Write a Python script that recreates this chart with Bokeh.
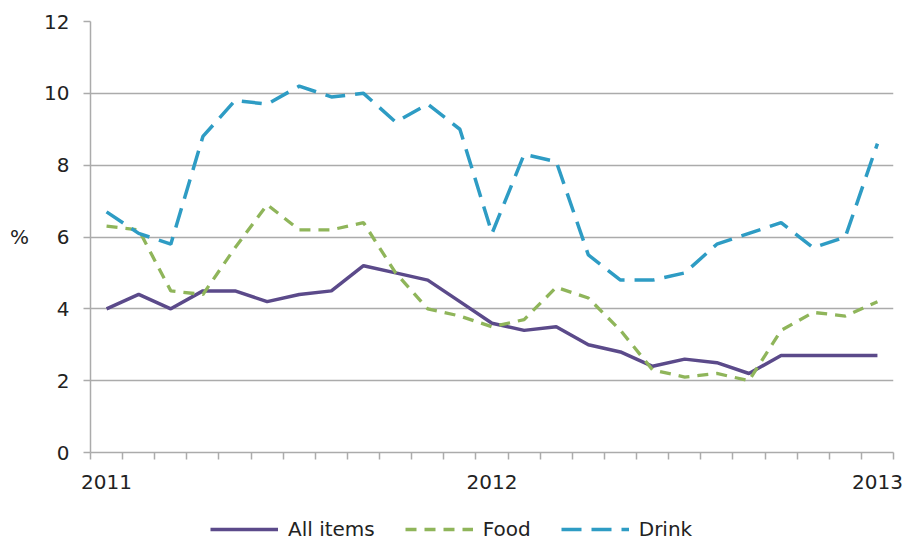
from bokeh.plotting import figure
from bokeh.layouts import column
from bokeh.models import (ColumnDataSource, Range1d, FixedTicker, Legend, LegendItem)
from bokeh.embed import file_html
from bokeh.resources import INLINE

# Monthly annual inflation rates, Jan 2011 - Jan 2013 (%)
months = list(range(25))
year_ticks = [0, 12, 24]
year_labels = ["2011", "2012", "2013"]

series_names = ["All items", "Food", "Drink"]
all_items = [4.0, 4.4, 4.0, 4.5, 4.5, 4.2, 4.4, 4.5, 5.2, 5.0, 4.8, 4.2,
             3.6, 3.4, 3.5, 3.0, 2.8, 2.4, 2.6, 2.5, 2.2, 2.7, 2.7, 2.7, 2.7]
food = [6.3, 6.2, 4.5, 4.4, 5.7, 6.9, 6.2, 6.2, 6.4, 5.0, 4.0, 3.8,
        3.5, 3.7, 4.6, 4.3, 3.4, 2.3, 2.1, 2.2, 2.0, 3.4, 3.9, 3.8, 4.2]
drink = [6.7, 6.1, 5.8, 8.8, 9.8, 9.7, 10.2, 9.9, 10.0, 9.2, 9.7, 9.0,
         6.1, 8.3, 8.1, 5.5, 4.8, 4.8, 5.0, 5.8, 6.1, 6.4, 5.7, 6.0, 8.6]

source = ColumnDataSource(dict(month=months, all_items=all_items, food=food, drink=drink))
columns = ["all_items", "food", "drink"]

FONT = "DejaVu Sans"
TEXT = "#222222"
GRID = "#ababab"

styles = [
    dict(line_color="#5B4A8A", line_width=3.5),
    dict(line_color="#8FB55A", line_width=3.3, line_dash="11 8"),
    dict(line_color="#2E9CC4", line_width=3.5, line_dash="20 10"),
]

p = figure(width=908, height=500, output_backend="svg", toolbar_location=None,
           x_range=Range1d(-0.5, 24.5), y_range=Range1d(0, 12),
           min_border_left=90, min_border_right=15, min_border_top=21,
           min_border_bottom=48, background_fill_color="white",
           border_fill_color="white", outline_line_color=None)

# horizontal gridlines only
p.xgrid.grid_line_color = None
p.ygrid.grid_line_color = GRID
p.ygrid.grid_line_width = 1.5
p.ygrid.ticker = FixedTicker(ticks=[0, 2, 4, 6, 8, 10, 12])

# y axis
p.yaxis.ticker = FixedTicker(ticks=[0, 2, 4, 6, 8, 10, 12])
p.yaxis.axis_line_color = GRID
p.yaxis.axis_line_width = 1.5
p.yaxis.major_tick_line_color = GRID
p.yaxis.major_tick_line_width = 1.5
p.yaxis.major_tick_out = 7
p.yaxis.major_tick_in = 0
p.yaxis.minor_tick_line_color = None
p.yaxis.major_label_standoff = 14
p.yaxis.major_label_text_font = FONT
p.yaxis.major_label_text_font_size = "20px"
p.yaxis.major_label_text_color = TEXT
p.yaxis.axis_label = "%"
p.yaxis.axis_label_orientation = "horizontal"
p.yaxis.axis_label_standoff = 12
p.yaxis.axis_label_text_font = FONT
p.yaxis.axis_label_text_font_size = "20px"
p.yaxis.axis_label_text_font_style = "normal"
p.yaxis.axis_label_text_color = TEXT

# x axis: year labels, tick marks on month boundaries
p.xaxis.ticker = FixedTicker(ticks=year_ticks,
                             minor_ticks=[m - 0.5 for m in range(26)])
p.xaxis.major_label_overrides = {t: l for t, l in zip(year_ticks, year_labels)}
p.xaxis.axis_line_color = GRID
p.xaxis.axis_line_width = 1.5
p.xaxis.major_tick_line_color = None
p.xaxis.major_tick_out = 0
p.xaxis.major_tick_in = 0
p.xaxis.minor_tick_line_color = GRID
p.xaxis.minor_tick_line_width = 1.5
p.xaxis.minor_tick_out = 7
p.xaxis.minor_tick_in = 0
p.xaxis.major_label_standoff = 15
p.xaxis.major_label_text_font = FONT
p.xaxis.major_label_text_font_size = "20px"
p.xaxis.major_label_text_color = TEXT

for col, st in zip(columns, styles):
    p.line("month", col, source=source, **st)

# legend strip underneath the chart (its key lines are hidden renderers)
leg = figure(width=908, height=42, output_backend="svg", toolbar_location=None,
             x_axis_type=None, y_axis_type=None, x_range=Range1d(0, 1), y_range=Range1d(0, 1),
             min_border=0, outline_line_color=None, background_fill_color="white",
             border_fill_color="white")
leg.xgrid.grid_line_color = None
leg.ygrid.grid_line_color = None
key_renderers = [leg.line("month", col, source=source, visible=False, **st)
                 for col, st in zip(columns, styles)]

legend = Legend(items=[LegendItem(label=n, renderers=[r])
                       for n, r in zip(series_names, key_renderers)],
                orientation="horizontal", location=(120, 1), click_policy="none",
                padding=0, spacing=30, glyph_width=68, glyph_height=20,
                label_standoff=10, label_height=20,
                label_text_font=FONT, label_text_font_size="20px",
                label_text_color=TEXT, border_line_color=None,
                background_fill_alpha=0, inactive_fill_alpha=0)
leg.add_layout(legend, "center")

open("out.html", "w").write(file_html(column(p, leg, spacing=0), INLINE))
